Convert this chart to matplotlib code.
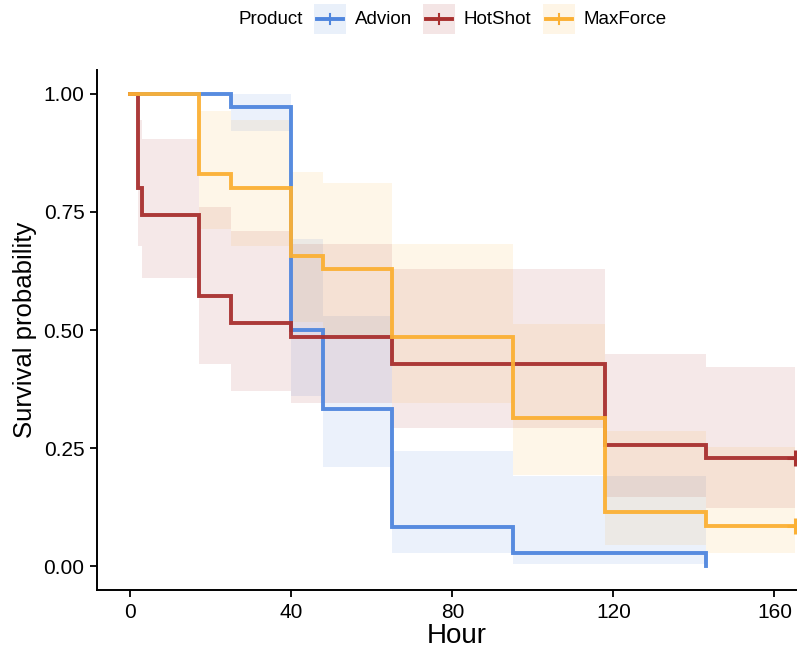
"""Kaplan-Meier survival curves by product, with confidence bands."""

import numpy as np
import matplotlib

matplotlib.use("Agg")
import matplotlib.pyplot as plt
from matplotlib.patches import Rectangle
from matplotlib.lines import Line2D

plt.rcParams["font.family"] = ["Liberation Sans", "DejaVu Sans"]

products = ["Advion", "HotShot", "MaxForce"]
colors = ["#4F86DE", "#A8302F", "#FBB034"]

end_time = 165

adv_time = [0, 25, 40, 48, 65, 95, 143]
adv_surv = [1.0, 0.972, 0.500, 0.333, 0.083, 0.028, 0.0]
adv_lower = [1.0, 0.920, 0.360, 0.210, 0.028, 0.004]
adv_upper = [1.0, 1.0, 0.693, 0.529, 0.245, 0.191]

hot_time = [0, 2, 3, 17, 25, 40, 65, 118, 143]
hot_surv = [1.0, 0.800, 0.743, 0.571, 0.514, 0.486, 0.429, 0.257, 0.229]
hot_lower = [1.0, 0.678, 0.611, 0.429, 0.372, 0.346, 0.292, 0.147, 0.124]
hot_upper = [1.0, 0.944, 0.903, 0.761, 0.710, 0.682, 0.628, 0.450, 0.421]

max_time = [0, 17, 25, 40, 48, 65, 95, 118, 143]
max_surv = [1.0, 0.829, 0.800, 0.657, 0.629, 0.486, 0.314, 0.114, 0.086]
max_lower = [1.0, 0.713, 0.678, 0.517, 0.487, 0.346, 0.193, 0.045, 0.029]
max_upper = [1.0, 0.964, 0.944, 0.835, 0.811, 0.682, 0.512, 0.286, 0.253]

# censored at end of observation (None = curve ends at zero)
censor_time = [None, end_time, end_time]

curves = [
    (adv_time, adv_surv, adv_lower, adv_upper),
    (hot_time, hot_surv, hot_lower, hot_upper),
    (max_time, max_surv, max_lower, max_upper),
]

fig = plt.figure(figsize=(7.97, 6.49), dpi=100)
ax = fig.add_axes([97 / 797, 1 - 590 / 649, 1 - 97 / 797, (590 - 70) / 649])

# ribbons first, then lines on top
for (t, s, lo, up), col in zip(curves, colors):
    n = len(lo)
    x = list(t[:n]) + [t[n] if n < len(t) else end_time]
    ax.fill_between(x, lo + [lo[-1]], up + [up[-1]], step="post",
                    color=col, alpha=0.11, linewidth=0)

for (t, s, lo, up), col, ct in zip(curves, colors, censor_time):
    if ct is None:
        x, y = t, s
    else:
        x, y = list(t) + [ct], list(s) + [s[-1]]
    ax.step(x, y, where="post", color=col, linewidth=2.8, alpha=0.95,
            solid_joinstyle="miter")
    if ct is not None:
        ax.plot([ct], [s[-1]], marker="+", color=col, markersize=12,
                markeredgewidth=2.2, linestyle="none")

ax.set_xlim(-8.25, 165.6)
ax.set_ylim(-0.05, 1.05)
ax.set_xticks([0, 40, 80, 120, 160])
ax.set_yticks([0, 0.25, 0.5, 0.75, 1.0])
ax.set_yticklabels(["0.00", "0.25", "0.50", "0.75", "1.00"])
ax.tick_params(labelsize=15, length=5, width=1.3, colors="black", pad=4)
for side in ["top", "right"]:
    ax.spines[side].set_visible(False)
for side in ["left", "bottom"]:
    ax.spines[side].set_linewidth(1.4)
ax.set_xlabel("Hour", fontsize=20)
ax.xaxis.set_label_coords(0.514, -0.064)
ax.set_ylabel("Survival probability", fontsize=18.5, labelpad=5)

# legend across the top
lg = fig.add_axes([0, 0, 1, 1], frameon=False)
lg.set_xlim(0, 797)
lg.set_ylim(649, 0)
lg.set_axis_off()
lg.text(239, 19, "Product", fontsize=13.5, va="center", ha="left")
key_x = [315, 424, 544]
for kx, col, name in zip(key_x, colors, products):
    lg.add_patch(Rectangle((kx - 1, 4), 32, 30, color=col, alpha=0.12, linewidth=0))
    lg.add_line(Line2D([kx + 2, kx + 28], [19, 19], color=col, linewidth=2.8))
    lg.add_line(Line2D([kx + 15, kx + 15], [14, 24], color=col, linewidth=1.5))
    lg.text(kx + 40, 19, name, fontsize=13.5, va="center", ha="left")

plt.savefig("out.png", dpi=100)
plt.close(fig)
